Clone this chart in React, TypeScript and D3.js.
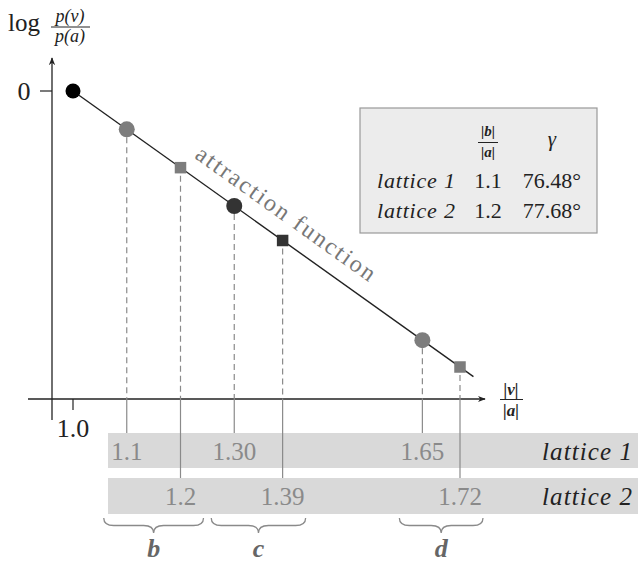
import React from "react";
import * as d3 from "d3";

const W = 638;
const H = 563;

// Ratio |v|/|a| of each lattice vector and its log-probability log p(v)/p(a)
const ratioValues = [1.0, 1.1, 1.2, 1.3, 1.39, 1.65, 1.72];
const ratioLabels = ["1.0", "1.1", "1.2", "1.30", "1.39", "1.65", "1.72"];
const logValues = [0, -0.1, -0.2, -0.3, -0.39, -0.65, -0.72];
// 0 = reference vector a, 1 = lattice 1, 2 = lattice 2
const latticeOf = [0, 1, 2, 1, 2, 1, 2];
const darkMarks = [true, false, false, true, true, false, false];

// Extent of the attraction function line
const lineRatio = [1.0, 1.745];
const lineLog = [0, -0.745];

// Braces grouping neighbouring vectors of both lattices
const braceNames = ["b", "c", "d"];
const braceFrom = [1.1, 1.3, 1.65];
const braceTo = [1.2, 1.39, 1.72];

// Lattice parameter table
const tableRows = ["lattice 1", "lattice 2"];
const tableRatios = ["1.1", "1.2"];
const tableAngles = ["76.48°", "77.68°"];
const bandNames = ["lattice 1", "lattice 2"];

const SERIF = '"Liberation Serif", "DejaVu Serif", serif';

function bracePath(x0: number, x1: number, y0: number, h: number) {
  const m = (x0 + x1) / 2;
  const q = Math.min(10, (x1 - x0) / 4);
  const yh = y0 + h / 2;
  return `M${x0},${y0} Q${x0},${yh} ${x0 + q},${yh} L${m - q},${yh} Q${m},${yh} ${m},${y0 + h} Q${m},${yh} ${m + q},${yh} L${x1 - q},${yh} Q${x1},${yh} ${x1},${y0}`;
}

export default function App() {
  const x = d3.scaleLinear().domain([1.0, 1.72]).range([73, 460]);
  const y = d3.scaleLinear().domain([0, -0.72]).range([91, 367]);

  const axisY = 399;
  const axisX = 52;
  const bandTop = [0, 433, 478];
  const bandH = [0, 35, 36];
  const bandLeft = 108;

  const line = d3
    .line<number>()
    .x((d) => x(lineRatio[d]))
    .y((d) => y(lineLog[d]));

  const angle = (Math.atan2(y(-1) - y(0), x(2) - x(1)) * 180) / Math.PI;
  const labelRatio = 1.37;
  const lx = x(labelRatio);
  const ly = y(1 - labelRatio);

  const gray = "#7d7d7d";
  const dark = "#333";

  return (
    <svg
      width={W}
      height={H}
      style={{ position: "absolute", left: 0, top: 0, background: "#fff", fontFamily: SERIF }}
    >
      <defs>
        <marker
          id="arrow"
          viewBox="0 0 10 10"
          refX="9"
          refY="5"
          markerWidth="8"
          markerHeight="8"
          orient="auto"
          markerUnits="userSpaceOnUse"
        >
          <path d="M0,1 L10,5 L0,9 L3,5 Z" fill="#222" />
        </marker>
      </defs>

      {/* lattice bands */}
      {[1, 2].map((k) => (
        <g key={"band" + k}>
          <rect x={bandLeft} y={bandTop[k]} width={W - bandLeft} height={bandH[k]} fill="#d9d9d9" />
          <text
            x={632}
            y={bandTop[k] + bandH[k] / 2 + 9}
            textAnchor="end"
            fontStyle="italic"
            fontSize={25}
            fill="#222"
            textLength={90}
            lengthAdjust="spacing"
          >
            {bandNames[k - 1]}
          </text>
        </g>
      ))}

      {/* axes */}
      <line x1={28} y1={axisY} x2={485} y2={axisY} stroke="#222" strokeWidth={1.3} markerEnd="url(#arrow)" />
      <line x1={axisX} y1={420} x2={axisX} y2={58} stroke="#222" strokeWidth={1.3} markerEnd="url(#arrow)" />
      <line x1={40} y1={y(0)} x2={axisX} y2={y(0)} stroke="#222" strokeWidth={1.2} />
      <text x={24} y={y(0) + 9} textAnchor="middle" fontSize={26} fill="#222">0</text>
      <line x1={x(1.0)} y1={axisY} x2={x(1.0)} y2={axisY + 11} stroke="#222" strokeWidth={1.2} />
      <text x={x(1.0)} y={437} textAnchor="middle" fontSize={26} fill="#222">1.0</text>

      {/* y axis label: log p(v)/p(a) */}
      <text x={8} y={31} fontSize={25} fill="#222">log</text>
      <text x={70} y={22} textAnchor="middle" fontSize={18} fontStyle="italic" fill="#222">p(v)</text>
      <line x1={51} y1={27} x2={90} y2={27} stroke="#222" strokeWidth={1} />
      <text x={70} y={42} textAnchor="middle" fontSize={18} fontStyle="italic" fill="#222">p(a)</text>

      {/* x axis label: |v|/|a| */}
      <text x={511} y={395} textAnchor="middle" fontSize={17} fontStyle="italic" fontWeight="bold" fill="#222">|v|</text>
      <line x1={500} y1={399.5} x2={523} y2={399.5} stroke="#222" strokeWidth={1} />
      <text x={511} y={416} textAnchor="middle" fontSize={17} fontStyle="italic" fontWeight="bold" fill="#222">|a|</text>

      {/* drop lines from each vector to its band */}
      {ratioValues.map((v, i) => {
        if (latticeOf[i] === 0) return null;
        const px = x(v);
        return (
          <g key={"drop" + i}>
            <line x1={px} y1={y(logValues[i]) + 8} x2={px} y2={axisY} stroke="#8a8a8a" strokeWidth={1.2} strokeDasharray="6,4" />
            <line x1={px} y1={axisY} x2={px} y2={bandTop[latticeOf[i]]} stroke="#8a8a8a" strokeWidth={1.2} />
          </g>
        );
      })}

      {/* value labels in the bands */}
      {ratioValues.map((v, i) => {
        if (latticeOf[i] === 0) return null;
        const k = latticeOf[i];
        return (
          <text key={"lab" + i} x={x(v)} y={bandTop[k] + bandH[k] / 2 + 9} textAnchor="middle" fontSize={25} fill="#8a8a8a">
            {ratioLabels[i]}
          </text>
        );
      })}

      {/* attraction function */}
      <path d={line([0, 1]) ?? ""} fill="none" stroke="#222" strokeWidth={1.4} />
      <text
        transform={`translate(${lx},${ly}) rotate(${angle})`}
        y={-16}
        textAnchor="middle"
        fontSize={24}
        fill="#777"
        textLength={215}
        lengthAdjust="spacing"
      >
        attraction function
      </text>

      {/* vector marks */}
      {ratioValues.map((v, i) => {
        const px = x(v);
        const py = y(logValues[i]);
        const fill = i === 0 ? "#000" : darkMarks[i] ? dark : gray;
        if (latticeOf[i] === 2) {
          const s = 11.5;
          return <rect key={"m" + i} x={px - s / 2} y={py - s / 2} width={s} height={s} fill={fill} />;
        }
        return <circle key={"m" + i} cx={px} cy={py} r={i === 0 ? 7.5 : 8} fill={fill} />;
      })}

      {/* braces */}
      {braceNames.map((name, i) => {
        const x0 = x(braceFrom[i]) - 23;
        const x1 = x(braceTo[i]) + 23;
        return (
          <g key={"brace" + name}>
            <path d={bracePath(x0, x1, 518, 15)} fill="none" stroke="#8a8a8a" strokeWidth={1.3} />
            <text x={(x0 + x1) / 2} y={557} textAnchor="middle" fontSize={26} fontStyle="italic" fontWeight="bold" fill="#666">
              {name}
            </text>
          </g>
        );
      })}

      {/* parameter table */}
      <rect x={360} y={108} width={237} height={125} fill="#ececec" stroke="#999" strokeWidth={1.2} />
      <text x={488} y={136} textAnchor="middle" fontSize={15} fontStyle="italic" fontWeight="bold" fill="#222">|b|</text>
      <line x1={478} y1={142.5} x2={498} y2={142.5} stroke="#222" strokeWidth={1} />
      <text x={488} y={157} textAnchor="middle" fontSize={15} fontStyle="italic" fontWeight="bold" fill="#222">|a|</text>
      <text x={552} y={146} textAnchor="middle" fontSize={21} fontStyle="italic" fill="#222">γ</text>
      {tableRows.map((r, i) => (
        <g key={"row" + i}>
          <text x={455} y={188 + i * 30} textAnchor="end" fontSize={22} fontStyle="italic" fill="#222" textLength={78} lengthAdjust="spacing">
            {r}
          </text>
          <text x={488} y={188 + i * 30} textAnchor="middle" fontSize={22} fill="#222">{tableRatios[i]}</text>
          <text x={552} y={188 + i * 30} textAnchor="middle" fontSize={22} fill="#222">{tableAngles[i]}</text>
        </g>
      ))}
    </svg>
  );
}
